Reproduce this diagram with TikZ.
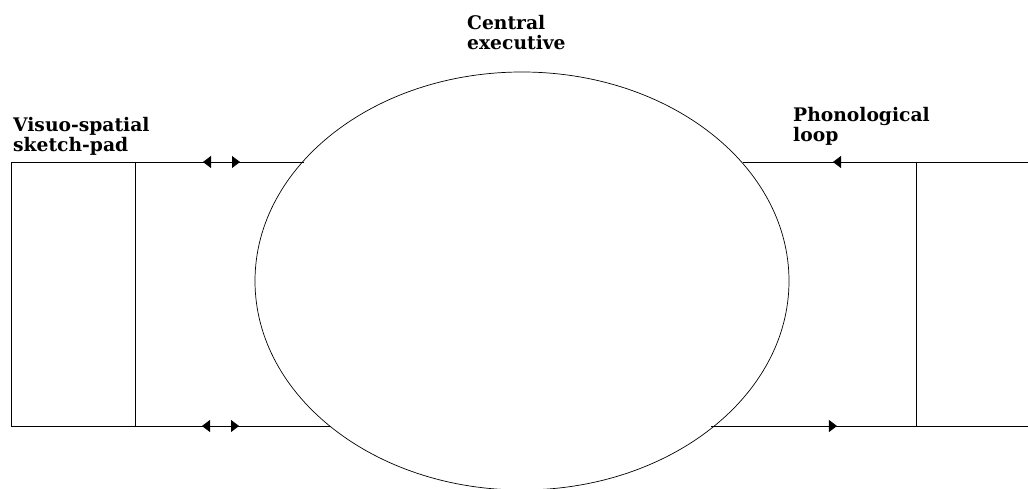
\documentclass[tikz,border=0pt]{standalone}
\usepackage{fontspec}
\setmainfont{DejaVu Serif}
\usetikzlibrary{shapes.geometric, arrows.meta, decorations.markings}

\begin{document}
\begin{tikzpicture}[x=1pt, y=-1pt,
    storebox/.style={draw, line width=0.8pt, rectangle, inner sep=0pt, outer sep=0pt,
                     minimum width=124pt, minimum height=264pt},
    execell/.style={draw, line width=0.7pt, ellipse, inner sep=0pt, outer sep=0pt,
                    minimum width=534pt, minimum height=418pt},
    compname/.style={align=left, inner sep=0pt, anchor=base west,
                     font=\fontsize{18.7}{20.5}\selectfont\bfseries},
    link/.style={line width=0.8pt},
    bothtips/.style 2 args={link, postaction=decorate, decoration={markings,
        mark=at position #1 with {\arrowreversed{Triangle[length=8pt, width=12pt]}},
        mark=at position #2 with {\arrow{Triangle[length=8pt, width=12pt]}}}},
    onetip/.style={link, postaction=decorate, decoration={markings,
        mark=at position #1 with {\arrow{Triangle[length=8pt, width=12pt]}}}}
]
    \useasboundingbox (0,0) rectangle (1028,489);

    % ========== Central executive ==========
    \node[execell] (ce) at (522,281) {};
    \node[compname] (ce_lbl) at (467,50) {Central\\executive};

    % ========== Visuo-spatial sketch-pad ==========
    \node[storebox] (vsp) at (73,294) {};
    \node[compname] (vsp_lbl) at (13,152) {Visuo-spatial\\sketch-pad};

    % ========== Phonological loop ==========
    \node[storebox] (pl) at (978,294) {};
    \node[compname] (pl_lbl) at (793,142) {Phonological\\loop};

    % --- Links ---
    % sketch-pad <-> executive
    \draw[bothtips={68pt}{105pt}] (vsp.north east) -- (vsp.north east -| ce.151.5);
    \draw[bothtips={67pt}{104pt}] (vsp.south east) -- (vsp.south east -| ce.217.05);

    % executive <-> loop
    \draw[onetip=83pt] (pl.north west) -- (pl.north west -| ce.28.5);
    \draw[onetip=126pt] (ce.322.95 |- pl.south west) -- (pl.south west);
\end{tikzpicture}
\end{document}
